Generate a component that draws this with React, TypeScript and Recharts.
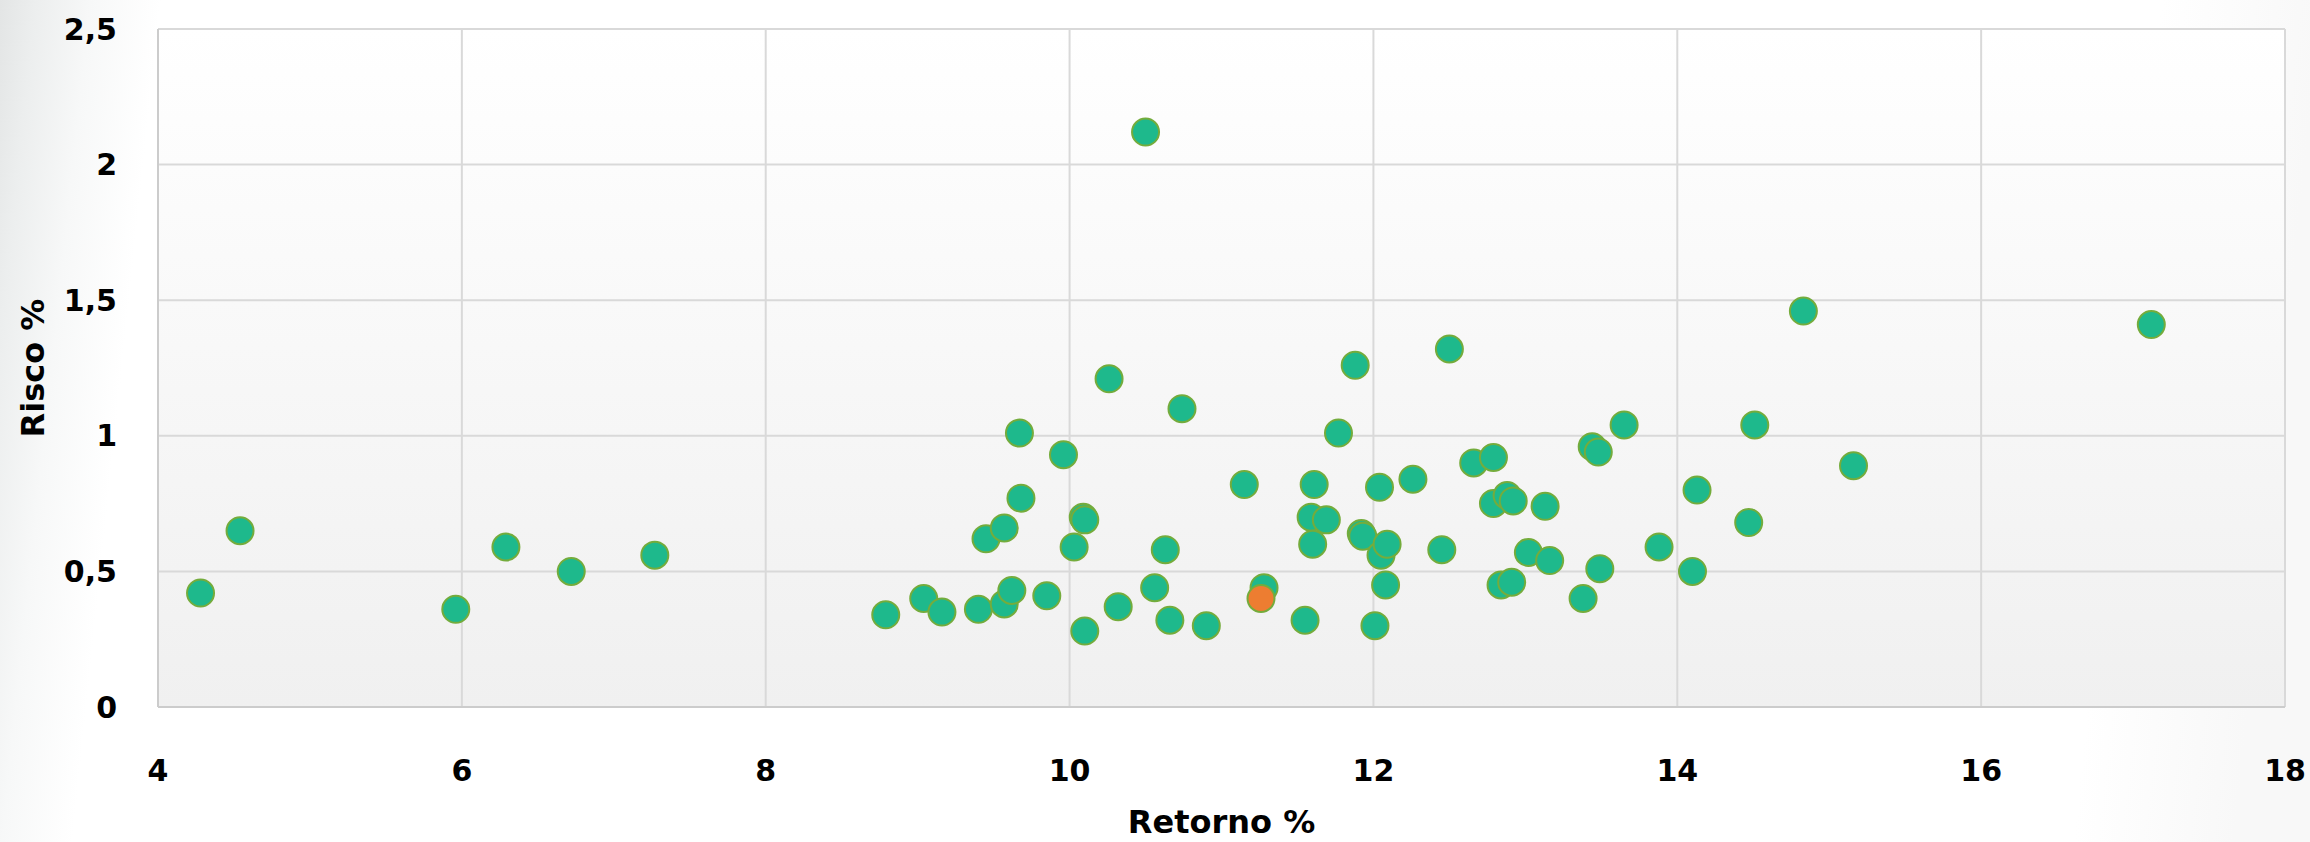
import React from 'react';
import { ScatterChart, Scatter, XAxis, YAxis, CartesianGrid } from 'recharts';

const retornoGreen = [4.28, 4.54, 5.96, 6.29, 6.72, 7.27, 8.79, 9.04, 9.16, 9.40, 9.45, 9.57, 9.57, 9.62, 9.67, 9.68, 9.85, 9.96, 10.03, 10.09, 10.10, 10.10, 10.26, 10.32, 10.50, 10.56, 10.63, 10.66, 10.74, 10.90, 11.15, 11.28, 11.55, 11.59, 11.60, 11.61, 11.69, 11.77, 11.88, 11.92, 11.93, 12.01, 12.04, 12.05, 12.08, 12.09, 12.26, 12.45, 12.50, 12.66, 12.79, 12.79, 12.84, 12.88, 12.91, 12.92, 13.02, 13.13, 13.16, 13.38, 13.44, 13.48, 13.49, 13.65, 13.88, 14.10, 14.13, 14.47, 14.51, 14.83, 15.16, 17.12];
const riscoGreen = [0.42, 0.65, 0.36, 0.59, 0.50, 0.56, 0.34, 0.40, 0.35, 0.36, 0.62, 0.66, 0.38, 0.43, 1.01, 0.77, 0.41, 0.93, 0.59, 0.70, 0.69, 0.28, 1.21, 0.37, 2.12, 0.44, 0.58, 0.32, 1.10, 0.30, 0.82, 0.44, 0.32, 0.70, 0.60, 0.82, 0.69, 1.01, 1.26, 0.64, 0.63, 0.30, 0.81, 0.56, 0.45, 0.60, 0.84, 0.58, 1.32, 0.90, 0.92, 0.75, 0.45, 0.78, 0.46, 0.76, 0.57, 0.74, 0.54, 0.40, 0.96, 0.94, 0.51, 1.04, 0.59, 0.50, 0.80, 0.68, 1.04, 1.46, 0.89, 1.41];
const retornoOrange = [11.26];
const riscoOrange = [0.40];

const xTicks = [4, 6, 8, 10, 12, 14, 16, 18];
const yTicks = [0, 0.5, 1, 1.5, 2, 2.5];

const greenData = retornoGreen.map((x, i) => ({ x, y: riscoGreen[i] }));
const orangeData = retornoOrange.map((x, i) => ({ x, y: riscoOrange[i] }));

const FONT = '"DejaVu Sans", sans-serif';

const makeDot = (fill: string, stroke: string) => (props: any) => {
  const { cx, cy } = props;
  if (cx == null || cy == null) return <g />;
  return <circle cx={cx} cy={cy} r={13.5} fill={fill} stroke={stroke} strokeWidth={2} />;
};

const fmt = (v: number) => String(v).replace('.', ',');

export default function App() {
  return (
    <div
      style={{
        position: 'fixed',
        left: 0,
        top: 0,
        width: 2310,
        height: 842,
        background:
          'linear-gradient(96deg, #e3e5e5 0px, #eceeee 35px, #f7f8f8 90px, #ffffff 160px, #ffffff 2150px, #f8f8f8 2310px)',
      }}
    >
      <ScatterChart
        width={2310}
        height={842}
        margin={{ top: 29, right: 25, bottom: 55, left: 0 }}
      >
        <defs>
          <linearGradient id="plotBg" x1="0" y1="0" x2="0" y2="1">
            <stop offset="0%" stopColor="#ffffff" />
            <stop offset="100%" stopColor="#f0f0f0" />
          </linearGradient>
        </defs>
        <CartesianGrid
          stroke="#d9d9d9"
          strokeWidth={2}
          fill="url(#plotBg)"
          fillOpacity={1}
        />
        <XAxis
          type="number"
          dataKey="x"
          domain={[4, 18]}
          ticks={xTicks}
          allowDataOverflow
          height={80}
          tickLine={false}
          tickSize={0}
          tickMargin={53}
          axisLine={{ stroke: '#cccccc', strokeWidth: 2 }}
          tick={{ fill: '#000', fontSize: 30, fontWeight: 700, fontFamily: FONT }}
          label={{
            value: 'Retorno %',
            position: 'bottom',
            offset: 23,
            style: { fill: '#000', fontSize: 32, fontWeight: 700, fontFamily: FONT },
          }}
        />
        <YAxis
          type="number"
          dataKey="y"
          domain={[0, 2.5]}
          ticks={yTicks}
          allowDataOverflow
          width={158}
          tickLine={false}
          tickSize={0}
          tickMargin={41}
          tickFormatter={fmt}
          axisLine={{ stroke: '#cccccc', strokeWidth: 2 }}
          tick={{ fill: '#000', fontSize: 30, fontWeight: 700, fontFamily: FONT }}
          label={{
            value: 'Risco %',
            angle: -90,
            position: 'insideLeft',
            offset: 33,
            style: { fill: '#000', fontSize: 32, fontWeight: 700, fontFamily: FONT, textAnchor: 'middle' },
          }}
        />
        <Scatter
          data={greenData}
          isAnimationActive={false}
          shape={makeDot('#1eb98c', '#74ac3c')}
        />
        <Scatter
          data={orangeData}
          isAnimationActive={false}
          shape={makeDot('#ed7d31', '#74ac3c')}
        />
      </ScatterChart>
    </div>
  );
}
